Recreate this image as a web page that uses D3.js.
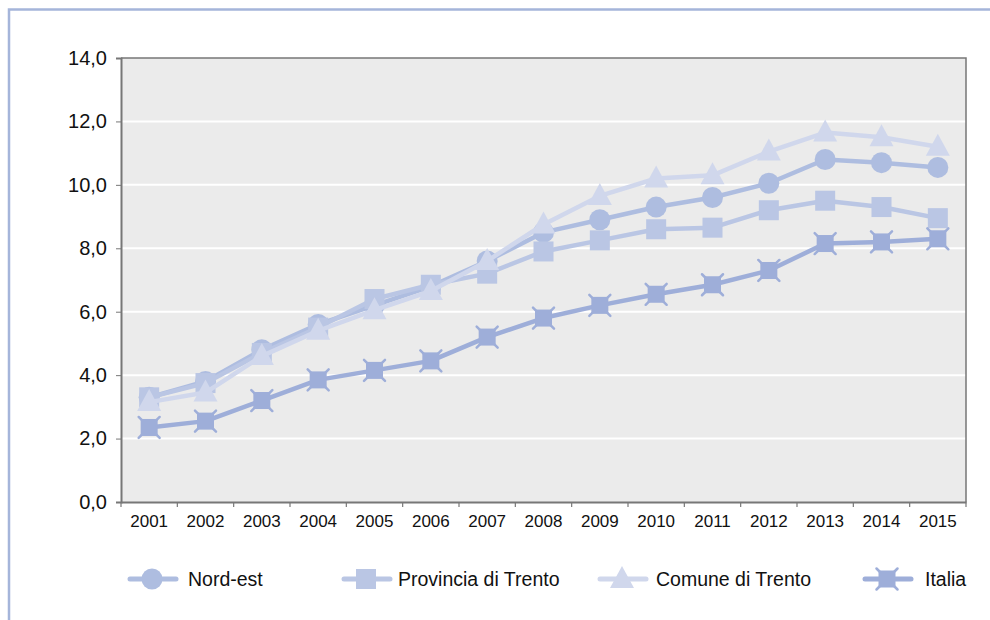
<!DOCTYPE html>
<html lang="en">
<head>
  <meta charset="UTF-8">
  <script src="https://d3js.org/d3.v7.min.js"></script>
  <title>Serie 2001-2015</title>
  <style>
    body { margin: 0; background: #fff; }
    text { font-family: "Liberation Sans", Arial, sans-serif; fill: #111; }
  </style>
</head>
<body>
  <svg width="990" height="620"></svg>
  <script>
    const years = ['2001', '2002', '2003', '2004', '2005', '2006', '2007', '2008', '2009', '2010', '2011', '2012', '2013', '2014', '2015']
    const yTicks = [0, 2, 4, 6, 8, 10, 12, 14]

    const nordEst = [3.3, 3.8, 4.8, 5.6, 6.2, 6.8, 7.6, 8.5, 8.9, 9.3, 9.6, 10.05, 10.8, 10.7, 10.55]
    const provinciaTrento = [3.3, 3.75, 4.7, 5.5, 6.4, 6.85, 7.2, 7.9, 8.25, 8.6, 8.65, 9.2, 9.5, 9.3, 8.95]
    const comuneTrento = [3.15, 3.45, 4.6, 5.4, 6.05, 6.65, 7.6, 8.75, 9.65, 10.2, 10.3, 11.05, 11.65, 11.5, 11.2]
    const italia = [2.35, 2.55, 3.2, 3.85, 4.15, 4.45, 5.2, 5.8, 6.2, 6.55, 6.85, 7.3, 8.15, 8.2, 8.3]

    const series = [
      { name: 'Nord-est', values: nordEst, color: '#aebde0', marker: 'circle', lx: 152, tx: 188 },
      { name: 'Provincia di Trento', values: provinciaTrento, color: '#bac6e4', marker: 'square', lx: 366, tx: 398 },
      { name: 'Comune di Trento', values: comuneTrento, color: '#d0d7ec', marker: 'triangle', lx: 622, tx: 656 },
      { name: 'Italia', values: italia, color: '#9eaed9', marker: 'cross', lx: 887, tx: 925 }
    ]

    const svg = d3.select('svg')
    const margin = { left: 121, top: 58, right: 966, bottom: 502 }

    // frame
    svg.append('path')
      .attr('d', 'M9,620 V9.5 H990')
      .attr('fill', 'none')
      .attr('stroke', '#a5b5da')
      .attr('stroke-width', 2.5)

    const x = d3.scaleBand().domain(years).range([margin.left, margin.right])
    const y = d3.scaleLinear().domain([0, 14]).range([margin.bottom, margin.top])

    svg.append('rect')
      .attr('x', margin.left).attr('y', margin.top)
      .attr('width', margin.right - margin.left)
      .attr('height', margin.bottom - margin.top)
      .attr('fill', '#ebebeb')

    svg.append('g').selectAll('line')
      .data(yTicks.filter(d => d > 0 && d < 14))
      .join('line')
      .attr('x1', margin.left).attr('x2', margin.right)
      .attr('y1', d => y(d)).attr('y2', d => y(d))
      .attr('stroke', '#fff').attr('stroke-width', 2)

    // top and right border of plot
    svg.append('path')
      .attr('d', `M${margin.left},${margin.top} H${margin.right} V${margin.bottom}`)
      .attr('fill', 'none').attr('stroke', '#777').attr('stroke-width', 1.5)

    const fmt = d => d3.format('.1f')(d).replace('.', ',')

    const yAxis = svg.append('g')
      .attr('transform', `translate(${margin.left},0)`)
      .call(d3.axisLeft(y).tickValues(yTicks).tickFormat(fmt).tickSize(5).tickPadding(9))
    yAxis.select('.domain').attr('stroke', '#777').attr('stroke-width', 2)
    yAxis.selectAll('.tick line').attr('stroke', '#777')
    yAxis.selectAll('text').style('font-size', '20px').style('fill', '#111')

    const xAxis = svg.append('g')
      .attr('transform', `translate(0,${margin.bottom})`)
      .call(d3.axisBottom(x).tickSize(0).tickPadding(13))
    xAxis.select('.domain').attr('stroke', '#777').attr('stroke-width', 2)
    xAxis.selectAll('text').style('font-size', '17px').style('fill', '#111')
    // band boundaries as ticks
    xAxis.selectAll('.sep')
      .data(years.concat(['end']))
      .join('line')
      .attr('class', 'sep')
      .attr('x1', (d, i) => margin.left + i * x.step())
      .attr('x2', (d, i) => margin.left + i * x.step())
      .attr('y1', 0).attr('y2', 5)
      .attr('stroke', '#777').attr('stroke-width', 1.2)

    function drawMarker(g, type, color) {
      if (type === 'circle') {
        g.append('circle').attr('r', 10.5).attr('fill', color)
      } else if (type === 'square') {
        g.append('rect').attr('x', -10).attr('y', -10).attr('width', 20).attr('height', 20).attr('fill', color)
      } else if (type === 'triangle') {
        g.append('path').attr('d', 'M0,-13 L12,9 L-12,9Z').attr('fill', color)
      } else {
        g.append('path').attr('d', 'M-10.5,-10.5 L10.5,10.5 M10.5,-10.5 L-10.5,10.5')
          .attr('stroke', color).attr('stroke-width', 2.5).attr('stroke-linecap', 'round')
        g.append('rect').attr('x', -8.5).attr('y', -8.5).attr('width', 17).attr('height', 17).attr('fill', color)
      }
    }

    const line = d3.line()
      .x((d, i) => x(years[i]) + x.bandwidth() / 2)
      .y(d => y(d))

    series.forEach(s => {
      const g = svg.append('g')
      g.append('path')
        .attr('d', line(s.values))
        .attr('fill', 'none')
        .attr('stroke', s.color)
        .attr('stroke-width', 4.5)
        .attr('stroke-linejoin', 'round')
      s.values.forEach((v, i) => {
        const m = g.append('g')
          .attr('transform', `translate(${x(years[i]) + x.bandwidth() / 2},${y(v)})`)
        drawMarker(m, s.marker, s.color)
      })
    })

    // legend
    const legendY = 579
    series.forEach(s => {
      const g = svg.append('g').attr('transform', `translate(${s.lx},${legendY})`)
      g.append('line').attr('x1', -22).attr('x2', 24)
        .attr('stroke', s.color).attr('stroke-width', 5).attr('stroke-linecap', 'round')
      drawMarker(g, s.marker, s.color)
      g.append('text').attr('x', s.tx - s.lx).attr('y', 7).style('font-size', '19.5px').text(s.name)
    })
  </script>
</body>
</html>
